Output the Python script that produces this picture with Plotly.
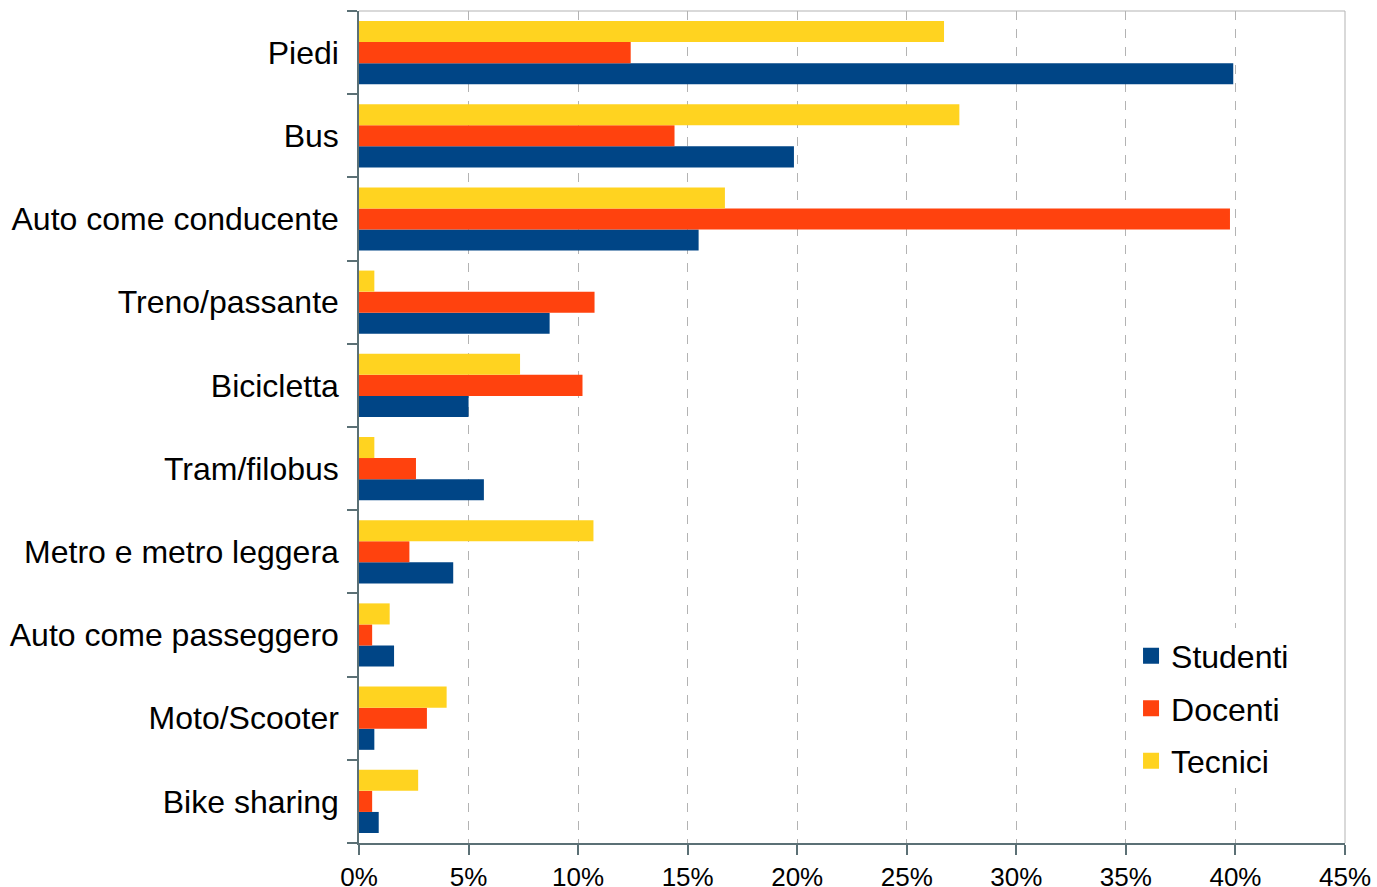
import plotly.graph_objects as go

categories = ["Piedi", "Bus", "Auto come conducente", "Treno/passante", "Bicicletta",
              "Tram/filobus", "Metro e metro leggera", "Auto come passeggero",
              "Moto/Scooter", "Bike sharing"]
studenti = [39.9, 19.85, 15.5, 8.7, 5.0, 5.7, 4.3, 1.6, 0.7, 0.9]
docenti = [12.4, 14.4, 39.75, 10.75, 10.2, 2.6, 2.3, 0.6, 3.1, 0.6]
tecnici = [26.7, 27.4, 16.7, 0.7, 7.35, 0.7, 10.7, 1.4, 4.0, 2.7]
x_ticks = [0, 5, 10, 15, 20, 25, 30, 35, 40, 45]
x_tick_labels = [f"{v}%" for v in x_ticks]

series = [("Studenti", studenti, "#004586"),
          ("Docenti", docenti, "#ff420e"),
          ("Tecnici", tecnici, "#ffd320")]

fig = go.Figure()
for name, vals, color in series:
    fig.add_trace(go.Bar(y=categories, x=vals, name=name, orientation="h",
                         marker=dict(color=color, line=dict(width=0)),
                         legendgroup=name, showlegend=False))
# legend entries with larger square swatches
for name, vals, color in series:
    fig.add_trace(go.Scatter(x=[None], y=[None], mode="markers", name=name,
                             marker=dict(symbol="square", size=22, color=color),
                             legendgroup=name, showlegend=True))

axis_color = "#5b7075"
fig.update_layout(
    width=1377, height=887,
    margin=dict(l=359, r=32, t=11, b=44, autoexpand=False),
    paper_bgcolor="white", plot_bgcolor="white",
    barmode="group", bargap=0.24, bargroupgap=0,
    font=dict(family="Liberation Sans, Arial, sans-serif", color="black"),
    showlegend=True,
    legend=dict(x=0.783, y=0.258, xanchor="left", yanchor="top",
                bgcolor="white", borderwidth=0,
                font=dict(size=32), traceorder="grouped", tracegroupgap=8,
                itemwidth=30),
    xaxis=dict(range=[0, 45], tickvals=x_ticks, ticktext=x_tick_labels,
               showgrid=True, gridcolor="#b3b3b3", griddash="dash", gridwidth=1,
               zeroline=False, showline=True, linecolor=axis_color, linewidth=1.5,
               ticks="outside", ticklen=10, tickcolor=axis_color, tickwidth=1.5,
               tickfont=dict(size=26), automargin=False),
    yaxis=dict(categoryorder="array", categoryarray=categories[::-1],
               showline=True, linecolor=axis_color, linewidth=1.5,
               ticks="outside", tickson="boundaries", ticklen=10,
               tickcolor=axis_color, tickwidth=1.5, ticklabelstandoff=12,
               tickfont=dict(size=32), showgrid=False, automargin=False),
)

# light frame on top and right of the plot area
fig.add_shape(type="line", xref="paper", yref="paper", x0=0, x1=1, y0=1, y1=1,
              line=dict(color="#b3b3b3", width=1))
fig.add_shape(type="line", xref="paper", yref="paper", x0=1, x1=1, y0=0, y1=1,
              line=dict(color="#b3b3b3", width=1))

fig.write_html("out.html", config={"displayModeBar": False},
               post_script="document.body.style.margin='0';document.body.style.overflow='hidden';")
